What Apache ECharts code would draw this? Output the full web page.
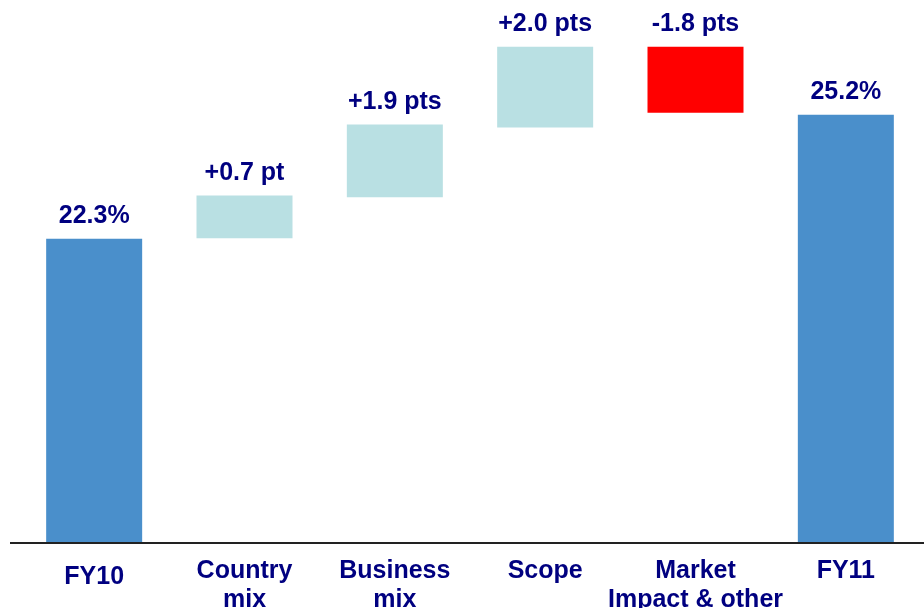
<!DOCTYPE html>
<html>
<head>
<meta charset="utf-8">
<script src="https://cdn.jsdelivr.net/npm/echarts@6/dist/echarts.min.js"></script>
<style>html,body{margin:0;padding:0;background:#fff}#c{width:924px;height:608px}</style>
</head>
<body>
<div id="c"></div>
<script>
var categories = ['FY10', 'Country\nmix', 'Business\nmix', 'Scope', 'Market\nImpact & other', 'FY11'];
// bar bottoms and tops, in margin % points
var lows  = [0,    22.31, 23.27, 24.90, 25.25, 0];
var highs = [22.3, 23.31, 24.97, 26.79, 26.79, 25.2];
var valueLabels = ['22.3%', '+0.7 pt', '+1.9 pts', '+2.0 pts', '-1.8 pts', '25.2%'];
var barColors = ['#4A8FCB', '#B9E0E3', '#B9E0E3', '#B9E0E3', '#FF0000', '#4A8FCB'];

var navy = '#000080';
var font = '"Liberation Sans", Arial, sans-serif';

var chart = echarts.init(document.getElementById('c'));
chart.setOption({
  animation: false,
  backgroundColor: '#fff',
  grid: { left: 19, right: 3, top: 10, bottom: 66, containLabel: false, outerBoundsMode: 'none' },
  xAxis: {
    type: 'category',
    data: categories.map(function (c, i) {
      return i === 0 ? { value: c, textStyle: { padding: [6, 0, 0, 0] } } : c;
    }),
    axisTick: { show: false },
    axisLine: { show: false },
    axisLabel: {
      interval: 0, margin: 15, color: navy, fontWeight: 'bold', fontSize: 25,
      lineHeight: 29, fontFamily: font
    }
  },
  yAxis: {
    type: 'value', min: 15.21, max: 27.65,
    show: false, splitLine: { show: false }
  },
  graphic: [{
    type: 'rect', left: 10, bottom: 64, shape: { width: 914, height: 2 },
    style: { fill: '#222' }, z: 10
  }],
  series: [{
    type: 'bar', stack: 'w', barWidth: 96, silent: true,
    itemStyle: { color: 'rgba(0,0,0,0)' },
    data: lows
  }, {
    type: 'bar', stack: 'w', barWidth: 96,
    data: highs.map(function (h, i) {
      return { value: h - lows[i], itemStyle: { color: barColors[i] } };
    }),
    label: {
      show: true, position: 'top', distance: 10,
      color: navy, fontWeight: 'bold', fontSize: 25, fontFamily: font,
      formatter: function (p) { return valueLabels[p.dataIndex]; }
    }
  }]
});
</script>
</body>
</html>
